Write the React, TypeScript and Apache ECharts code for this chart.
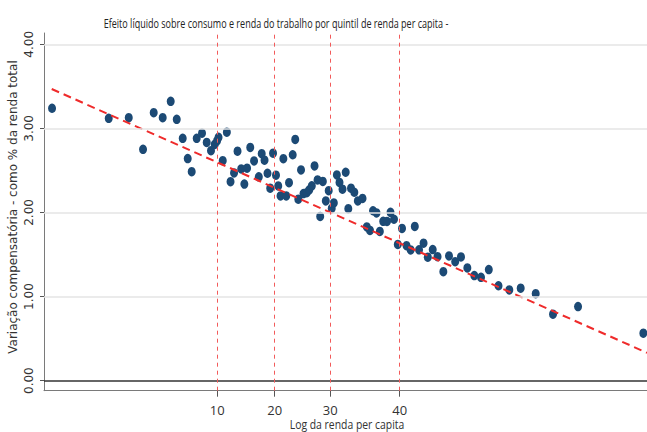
import React, { useEffect, useRef } from "react";
import * as echarts from "echarts";

// Log da renda per capita (position along the axis, 0-100 scale) and compensating variation (% of total income)
const logRenda: number[] = [
  1.33, 10.73, 14.05, 16.42, 18.19, 19.68, 21.01, 22.01, 23.0, 23.83,
  24.49, 25.32, 26.2, 26.98, 27.69, 28.31, 28.69, 28.94, 29.64, 30.32,
  30.93, 31.51, 32.09, 32.7, 33.22, 33.67, 34.2, 34.83, 35.62, 36.1,
  36.57, 37.06, 37.51, 37.98, 38.47, 38.84, 39.22, 39.69, 40.17, 40.63,
  41.24, 41.66, 42.17, 42.62, 43.03, 43.57, 43.98, 44.41, 44.86, 45.36,
  45.8, 46.24, 46.73, 47.21, 47.71, 48.06, 48.56, 49.0, 49.5, 50.03,
  50.46, 50.91, 51.46, 52.04, 52.82, 53.53, 54.06, 54.56, 55.14, 55.69,
  56.25, 56.88, 57.46, 58.04, 58.67, 59.37, 60.12, 60.8, 61.49, 62.19,
  62.94, 63.65, 64.46, 65.26, 66.22, 67.16, 68.19, 69.15, 70.2, 71.36,
  72.47, 73.76, 75.37, 77.16, 79.05, 81.54, 84.41, 88.56, 99.39,
];
const variacao: number[] = [
  3.239, 3.12, 3.127, 2.751, 3.187, 3.127, 3.322, 3.108, 2.882, 2.64,
  2.485, 2.882, 2.942, 2.832, 2.735, 2.809, 2.85, 2.894, 2.616, 2.955,
  2.366, 2.47, 2.729, 2.517, 2.337, 2.527, 2.773, 2.612, 2.424, 2.699,
  2.621, 2.466, 2.288, 2.705, 2.443, 2.315, 2.196, 2.639, 2.196, 2.354,
  2.686, 2.868, 2.157, 2.505, 2.224, 2.235, 2.268, 2.317, 2.553, 2.386,
  1.952, 2.369, 2.137, 2.259, 2.048, 2.113, 2.446, 2.357, 2.276, 2.478,
  2.045, 2.288, 2.24, 2.137, 2.166, 1.828, 1.786, 2.02, 1.994, 1.774,
  1.895, 1.893, 2.002, 1.919, 1.62, 1.81, 1.605, 1.554, 1.834, 1.556,
  1.634, 1.468, 1.558, 1.474, 1.296, 1.483, 1.415, 1.471, 1.34, 1.249,
  1.229, 1.32, 1.128, 1.078, 1.099, 1.034, 0.79, 0.88, 0.564,
];

// Fitted linear trend (endpoints)
const fitX: number[] = [1.28, 100];
const fitY: number[] = [3.468, 0.331];

// Percentile markers
const pctPositions: number[] = [28.74, 38.26, 47.48, 58.99];
const pctLabels: string[] = ["10", "20", "30", "40"];

const yTicks: number[] = [0, 1, 2, 3, 4];
const yGrid: number[] = [1, 2, 3, 4];

const TITLE = "Efeito líquido sobre consumo e renda do trabalho por quintil de renda per capita -";
const Y_NAME = "Variação compensatória - como % da renda total";
const X_NAME = "Log da renda per capita";

export default function App() {
  const ref = useRef<HTMLDivElement>(null);
  useEffect(() => {
    if (!ref.current) return;
    const chart = echarts.init(ref.current, undefined, { renderer: "svg" });
    const points = logRenda.map((x, i) => [x, variacao[i]]);
    const fit = fitX.map((x, i) => [x, fitY[i]]);
    chart.setOption({
      animation: false,
      backgroundColor: "#ffffff",
      grid: { left: 44, right: 0, top: 33, bottom: 41.3 },
      xAxis: {
        type: "value",
        min: 0,
        max: 100,
        axisLine: { show: true, onZero: false, lineStyle: { color: "#7a7a7a", width: 1 } },
        axisTick: { show: true, length: 6, customValues: pctPositions, lineStyle: { color: "#555" } },
        axisLabel: {
          show: true,
          customValues: pctPositions,
          margin: 13,
          fontSize: 13,
          fontFamily: "Open Sans",
          color: "#333",
          formatter: (v: number) => {
            let best = 0;
            pctPositions.forEach((p, i) => {
              if (Math.abs(p - v) < Math.abs(pctPositions[best] - v)) best = i;
            });
            return pctLabels[best];
          },
        },
        splitLine: { show: false },
      },
      yAxis: {
        type: "value",
        min: -0.12,
        max: 4.134,
        axisLine: { show: true, onZero: false, lineStyle: { color: "#7a7a7a", width: 1 } },
        axisTick: { show: true, length: 4, customValues: yTicks, lineStyle: { color: "#555" } },
        axisLabel: {
          show: true,
          customValues: yTicks,
          rotate: 90,
          margin: 9,
          fontSize: 12,
          fontFamily: "DejaVu Sans",
          color: "#333",
          formatter: (v: number) => v.toFixed(2),
        },
        splitLine: { show: false },
      },
      graphic: [
        {
          type: "text",
          x: 276,
          y: 23,
          scaleX: 0.695,
          style: {
            text: TITLE,
            align: "center",
            verticalAlign: "middle",
            fontSize: 13,
            fontFamily: "Open Sans",
            fill: "#222",
          },
        },
        {
          type: "text",
          x: 347,
          y: 423,
          scaleX: 0.8,
          style: {
            text: X_NAME,
            align: "center",
            verticalAlign: "middle",
            fontSize: 13,
            fontFamily: "Open Sans",
            fill: "#333",
          },
        },
        {
          type: "text",
          x: 13,
          y: 207,
          rotation: Math.PI / 2,
          style: {
            text: Y_NAME,
            align: "center",
            verticalAlign: "middle",
            fontSize: 12,
            fontFamily: "DejaVu Sans",
            fill: "#333",
          },
        },
      ],
      series: [
        {
          type: "line",
          data: [],
          silent: true,
          z: 1,
          markLine: {
            silent: true,
            symbol: ["none", "none"],
            label: { show: false },
            data: [
              ...yGrid.map((y) => ({ yAxis: y, lineStyle: { color: "#e4e4e4", width: 1.5, type: "solid" } })),
              { yAxis: 0, lineStyle: { color: "#333", width: 1.5, type: "solid" } },
              ...pctPositions.map((x) => ({ xAxis: x, lineStyle: { color: "#f25a5a", width: 1, type: [4, 4] } })),
            ],
          },
        },
        {
          type: "scatter",
          data: points,
          symbol: "circle",
          symbolSize: [8, 9.5],
          itemStyle: { color: "#1c4a75", opacity: 1 },
          z: 3,
        },
        {
          type: "line",
          data: fit,
          symbol: "none",
          z: 4,
          lineStyle: { color: "#ef2b2b", width: 2, type: [8, 5] },
        },
      ],
    });
    return () => chart.dispose();
  }, []);
  return <div ref={ref} style={{ width: 647, height: 432, position: "absolute", left: 0, top: 0 }} />;
}
